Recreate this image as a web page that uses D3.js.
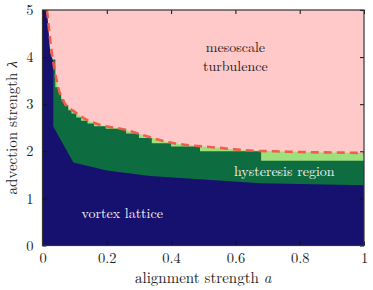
<!DOCTYPE html>
<html><head><meta charset="utf-8">
<script src="https://cdn.jsdelivr.net/npm/d3@7"></script>
<style>body{margin:0;background:#fff}svg{display:block}</style>
</head><body><svg id="c" width="373" height="290"></svg>
<script>
// vortex lattice upper boundary
const navyA = [0, 0.014, 0.024, 0.034, 0.034, 0.096, 0.2, 0.334, 0.5, 0.677, 1.0];
const navyL = [5, 5, 4.1, 3.9, 2.52, 1.76, 1.59, 1.475, 1.40, 1.32, 1.28];
// hysteresis (dark green) staircase: a where each level starts, level
const stepA = [0.033, 0.040, 0.050, 0.058, 0.068, 0.080, 0.090, 0.105, 0.12, 0.14, 0.16, 0.197, 0.26, 0.30, 0.34, 0.40, 0.49, 0.68];
const stepL = [3.95, 3.36, 3.25, 3.10, 2.98, 2.87, 2.80, 2.72, 2.65, 2.59, 2.53, 2.48, 2.38, 2.28, 2.17, 2.10, 2.00, 1.80];
// turbulence onset (dashed line)
const critA = [0.014, 0.03, 0.038, 0.054, 0.069, 0.10, 0.14, 0.179, 0.25, 0.31, 0.37, 0.41, 0.47, 0.54, 0.60, 0.66, 0.72, 0.83, 0.96, 1.0];
const critL = [5.0, 4.04, 3.72, 3.23, 3.02, 2.84, 2.66, 2.56, 2.47, 2.35, 2.23, 2.17, 2.12, 2.08, 2.04, 2.01, 2.0, 1.98, 1.97, 1.96];
const xTicks = [0, 0.2, 0.4, 0.6, 0.8, 1];
const xTickLabels = ["0", "0.2", "0.4", "0.6", "0.8", "1"];
const yTicks = [0, 1, 2, 3, 4, 5];

const FONT = '"Latin Modern Roman","Liberation Serif",serif';
const svg = d3.select("#c");
const L = 42.5, R = 364, T = 10, B = 245.5;
const x = d3.scaleLinear().domain([0, 1]).range([L, R]);
const y = d3.scaleLinear().domain([0, 5]).range([B, T]);

svg.append("clipPath").attr("id", "pc").append("rect")
  .attr("x", L).attr("y", T).attr("width", R - L).attr("height", B - T);
const g = svg.append("g").attr("clip-path", "url(#pc)");

g.append("rect").attr("x", L).attr("y", T).attr("width", R - L).attr("height", B - T).attr("fill", "#ffc9c9");

const crit = critA.map((a, i) => [a, critL[i]]);
const areaC = d3.area().curve(d3.curveMonotoneX).x(d => x(d[0])).y0(y(0)).y1(d => y(d[1]));
g.append("path").datum(crit.slice(1)).attr("d", areaC).attr("fill", "#9ee07c");

const stairs = stepA.map((a, i) => [a, stepL[i]]).concat([[1, stepL[stepL.length - 1]]]);
g.append("path").datum(stairs)
  .attr("d", d3.area().curve(d3.curveStepAfter).x(d => x(d[0])).y0(y(0)).y1(d => y(d[1])))
  .attr("fill", "#0d6c40");

const navy = navyA.map((a, i) => [a, navyL[i]]);
g.append("path").datum(navy)
  .attr("d", d3.area().x(d => x(d[0])).y0(y(0)).y1(d => y(d[1]))).attr("fill", "#16106f");

g.append("path").datum(crit)
  .attr("d", d3.line().curve(d3.curveMonotoneX).x(d => x(d[0])).y(d => y(d[1])))
  .attr("fill", "none").attr("stroke", "#ef5a45").attr("stroke-width", 2.6)
  .attr("stroke-dasharray", "8,5").attr("stroke-opacity", 0.95);

const lab = (a, l, t, col) => g.append("text").attr("x", x(a)).attr("y", y(l)).attr("text-anchor", "middle")
  .style("font-family", FONT).attr("font-size", 14).attr("fill", col).text(t);
lab(0.6, 4.1, "mesoscale", "#222");
lab(0.6, 3.7, "turbulence", "#222");
lab(0.752, 1.47, "hysteresis region", "#f2f2f2");
lab(0.248, 0.58, "vortex lattice", "#f2f2f2");

const ax = svg.append("g").attr("transform", `translate(0,${B})`)
  .call(d3.axisBottom(x).tickValues(xTicks).tickFormat((d, i) => xTickLabels[i]).tickSizeInner(-4).tickSizeOuter(0).tickPadding(7));
const axT = svg.append("g").attr("transform", `translate(0,${T})`)
  .call(d3.axisTop(x).tickValues(xTicks).tickFormat("").tickSizeInner(-4).tickSizeOuter(0));
const ay = svg.append("g").attr("transform", `translate(${L},0)`)
  .call(d3.axisLeft(y).tickValues(yTicks).tickFormat(d3.format("d")).tickSizeInner(-4).tickSizeOuter(0).tickPadding(9));
const ayR = svg.append("g").attr("transform", `translate(${R},0)`)
  .call(d3.axisRight(y).tickValues(yTicks).tickFormat("").tickSizeInner(-4).tickSizeOuter(0));
[ax, axT, ay, ayR].forEach(a => {
  a.select(".domain").remove();
  a.selectAll("line").attr("stroke", "#111");
  a.selectAll("text").attr("font-size", 14.5).attr("fill", "#222").style("font-family", FONT);
});
svg.append("rect").attr("x", L).attr("y", T).attr("width", R - L).attr("height", B - T)
  .attr("fill", "none").attr("stroke", "#333").attr("stroke-width", 1.2);

svg.append("text").attr("x", (L + R) / 2).attr("y", 283).attr("text-anchor", "middle")
  .style("font-family", FONT).attr("font-size", 15).attr("fill", "#222")
  .html('alignment strength <tspan font-style="italic">a</tspan>');
svg.append("text").attr("transform", `translate(17,${(T + B) / 2}) rotate(-90)`).attr("text-anchor", "middle")
  .style("font-family", FONT).attr("font-size", 15).attr("fill", "#222")
  .html('advection strength <tspan font-style="italic">λ</tspan>');
</script></body></html>
